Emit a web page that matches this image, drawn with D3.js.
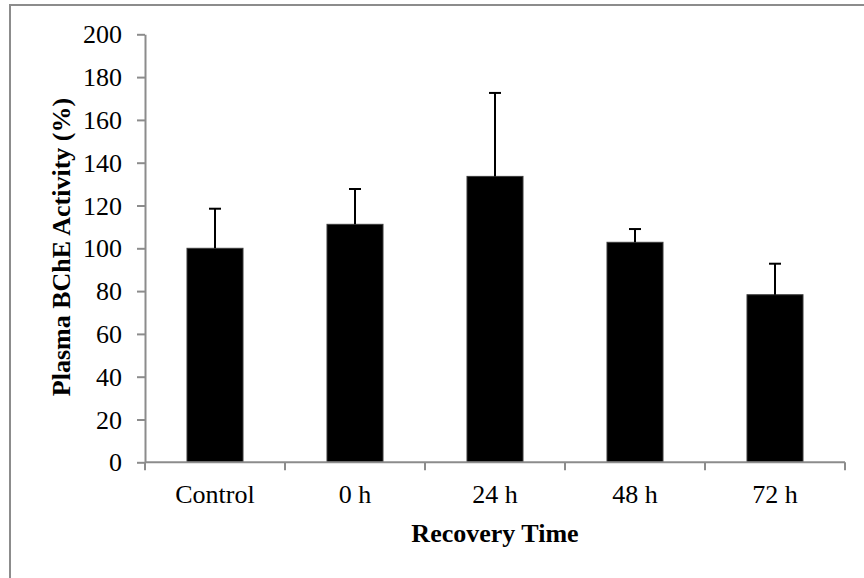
<!DOCTYPE html>
<html>
<head>
<meta charset="utf-8">
<script src="https://cdn.jsdelivr.net/npm/d3@7/dist/d3.min.js"></script>
<style>
  html, body { margin: 0; padding: 0; background: #fff; }
  svg { display: block; }
  text { font-family: "Liberation Serif", "Times New Roman", serif; fill: #000; }
</style>
</head>
<body>
<script>
// Plasma BChE activity across recovery time points
const categories = ["Control", "0 h", "24 h", "48 h", "72 h"];
const means = [100, 111.2, 133.6, 102.8, 78.3];
const errors = [18.5, 16.5, 39, 6.2, 14.5];
const yTicks = [0, 20, 40, 60, 80, 100, 120, 140, 160, 180, 200];
const xTitle = "Recovery Time";
const yTitle = "Plasma BChE Activity (%)";

const W = 864, H = 578;
const axisColor = "#8c8c8c";

const svg = d3.select("body").append("svg")
  .attr("width", W).attr("height", H);

// outer frame
svg.append("rect")
  .attr("x", 10).attr("y", 5)
  .attr("width", 870).attr("height", 600)
  .attr("fill", "none").attr("stroke", axisColor).attr("stroke-width", 2);

const x = d3.scaleBand().domain(categories).range([145, 845]).padding(0);
const y = d3.scaleLinear().domain([0, 200]).range([462.3, 34.3]);

const barW = x.bandwidth() * 0.4;

// bars
svg.append("g").selectAll("rect")
  .data(categories)
  .join("rect")
  .attr("x", (d) => x(d) + x.bandwidth() / 2 - barW / 2)
  .attr("y", (d, i) => y(means[i]))
  .attr("width", barW)
  .attr("height", (d, i) => y(0) - y(means[i]))
  .attr("fill", "#000")
  .attr("stroke", "#3a3a3a")
  .attr("stroke-width", 1);

// error bars (upper only)
const eb = svg.append("g").attr("stroke", "#000").attr("stroke-width", 2);
categories.forEach((c, i) => {
  const cx = x(c) + x.bandwidth() / 2;
  eb.append("line")
    .attr("x1", cx).attr("x2", cx)
    .attr("y1", y(means[i])).attr("y2", y(means[i] + errors[i]));
  eb.append("line")
    .attr("x1", cx - 6).attr("x2", cx + 6)
    .attr("y1", y(means[i] + errors[i])).attr("y2", y(means[i] + errors[i]));
});

// y axis
const yAxis = svg.append("g")
  .attr("transform", "translate(145,0)")
  .call(d3.axisLeft(y).tickValues(yTicks).tickSize(8).tickPadding(15).tickSizeOuter(0));
yAxis.select(".domain").attr("stroke", axisColor).attr("stroke-width", 2);
yAxis.selectAll(".tick line").attr("stroke", axisColor).attr("stroke-width", 2);
yAxis.selectAll(".tick text")
  .attr("font-size", 26)
  .attr("font-family", "Liberation Serif, Times New Roman, serif")
  .attr("dy", "0.33em");

// x axis: labels centered in bands, tick marks at band edges
const xAxis = svg.append("g")
  .attr("transform", "translate(0,462.3)")
  .call(d3.axisBottom(x).tickSize(0).tickPadding(0).tickSizeOuter(0));
xAxis.select(".domain").remove();
xAxis.selectAll(".tick text")
  .attr("font-size", 26)
  .attr("font-family", "Liberation Serif, Times New Roman, serif")
  .attr("y", 41).attr("dy", 0);

svg.append("line")
  .attr("x1", 145).attr("x2", 845)
  .attr("y1", y(0)).attr("y2", y(0))
  .attr("stroke", axisColor).attr("stroke-width", 2);

const edges = categories.map((c) => x(c)).concat([x.range()[1]]);
svg.append("g").selectAll("line")
  .data(edges)
  .join("line")
  .attr("x1", (d) => d).attr("x2", (d) => d)
  .attr("y1", y(0)).attr("y2", y(0) + 8)
  .attr("stroke", axisColor).attr("stroke-width", 2);

// axis titles
svg.append("text")
  .attr("x", 495).attr("y", 542)
  .attr("text-anchor", "middle")
  .attr("font-size", 26).attr("font-weight", "bold")
  .text(xTitle);

svg.append("text")
  .attr("transform", "translate(70,247) rotate(-90)")
  .attr("text-anchor", "middle")
  .attr("font-size", 26).attr("font-weight", "bold")
  .text(yTitle);
</script>
</body>
</html>
